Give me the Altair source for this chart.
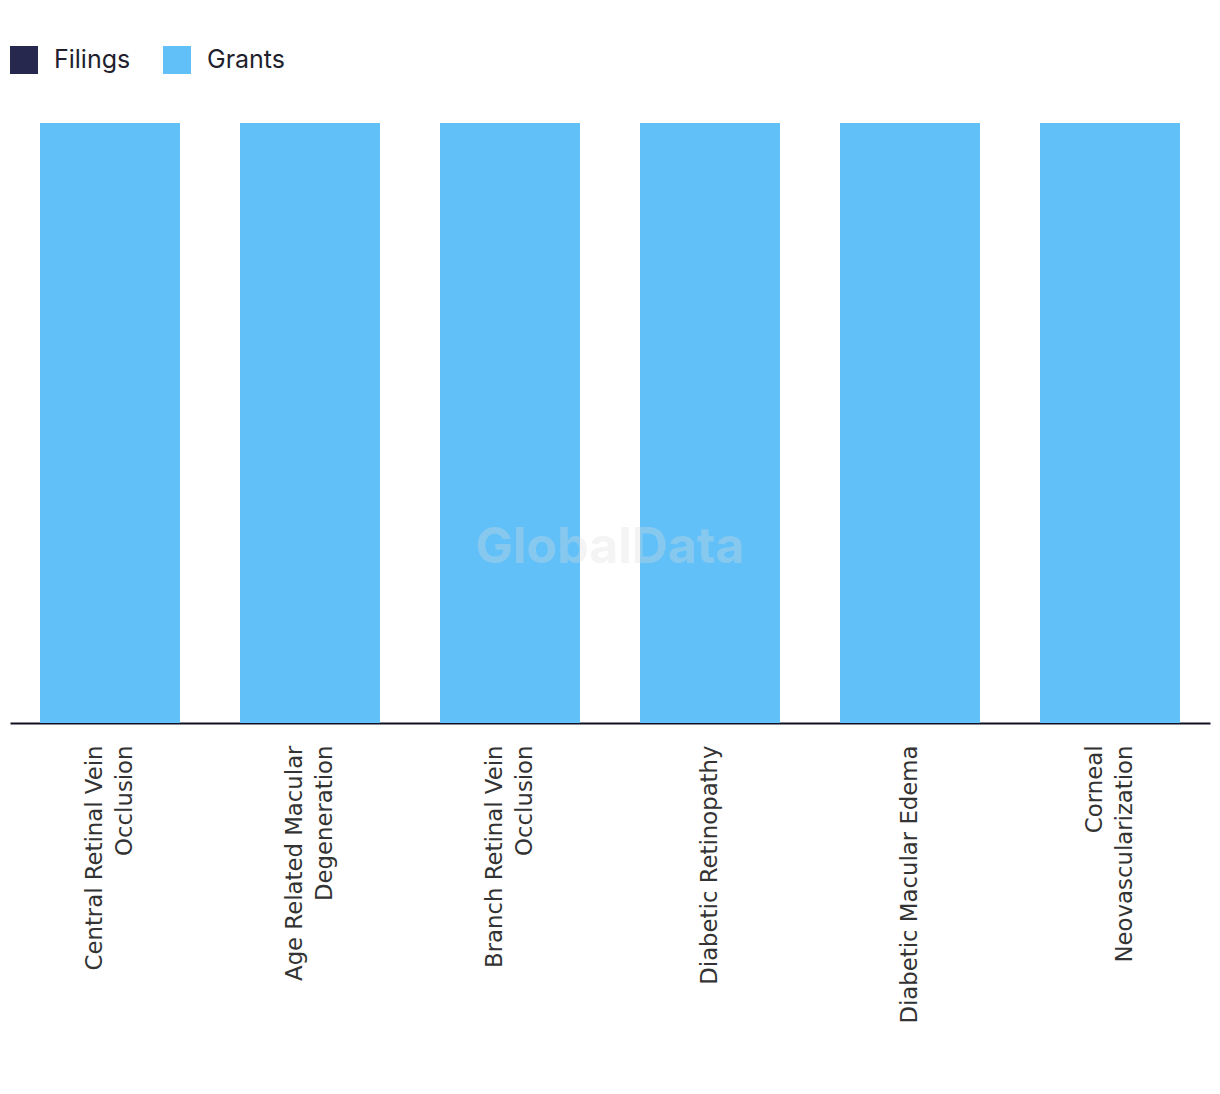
import altair as alt
import pandas as pd

categories = [
    "Central Retinal Vein Occlusion",
    "Age Related Macular Degeneration",
    "Branch Retinal Vein Occlusion",
    "Diabetic Retinopathy",
    "Diabetic Macular Edema",
    "Corneal Neovascularization",
]
label_lines = [
    "Central Retinal Vein|Occlusion",
    "Age Related Macular|Degeneration",
    "Branch Retinal Vein|Occlusion",
    "Diabetic Retinopathy",
    "Diabetic Macular Edema",
    "Corneal|Neovascularization",
]
filings = [0, 0, 0, 0, 0, 0]
grants = [1, 1, 1, 1, 1, 1]

rows = []
for c, f, g in zip(categories, filings, grants):
    rows.append({"category": c, "type": "Filings", "value": f})
    rows.append({"category": c, "type": "Grants", "value": g})
df = pd.DataFrame(rows)

label_map = "{" + ",".join(f"'{c}': '{l}'" for c, l in zip(categories, label_lines)) + "}"

bars = alt.Chart(df).mark_bar().encode(
    x=alt.X(
        "category:N",
        sort=categories,
        scale=alt.Scale(paddingInner=0.3, paddingOuter=0.15),
        axis=alt.Axis(
            title=None,
            labelAngle=-90,
            labelAlign="right",
            labelBaseline="middle",
            labelFontSize=22.8,
            labelFont="DejaVu Sans",
            labelColor="#333333",
            labelLineHeight=30,
            labelPadding=22,
            labelLimit=1000,
            labelOffset={
                "condition": {
                    "test": f"indexof({label_map}[datum.value], '|') >= 0",
                    "value": -15,
                },
                "value": 0,
            },
            ticks=False,
            domainColor="#111122",
            domainWidth=2,
            labelExpr=f"split({label_map}[datum.label], '|')",
        ),
    ),
    y=alt.Y("value:Q", stack="zero", scale=alt.Scale(domain=[0, 1]), axis=None),
    color=alt.Color(
        "type:N",
        scale=alt.Scale(domain=["Filings", "Grants"], range=["#26284e", "#62c0f8"]),
        legend=alt.Legend(
            title=None,
            orient="none",
            legendX=0,
            legendY=-77,
            direction="horizontal",
            symbolType="square",
            symbolSize=784,
            symbolStrokeWidth=0,
            symbolOpacity=1,
            labelFontSize=25,
            labelFont="Inter",
            labelColor="#1f1f2e",
            labelOffset=16,
            columnPadding=32,
        ),
    ),
    order=alt.Order("type:N", sort="ascending"),
)

watermark = alt.Chart(pd.DataFrame({"t": ["GlobalData"]})).mark_text(
    fontSize=50, fontWeight="bold", font="Inter", color="#dddddd", opacity=0.3
).encode(text="t:N", x=alt.value(600), y=alt.value(425))

chart = alt.layer(bars, watermark).properties(
    width=1200,
    height=600,
    autosize=alt.AutoSizeParams(type="none"),
    padding={"left": 2, "top": 115, "right": 2, "bottom": 360},
).configure_view(stroke=None)

chart.save("out.html", embed_options={"renderer": "svg", "actions": False})
